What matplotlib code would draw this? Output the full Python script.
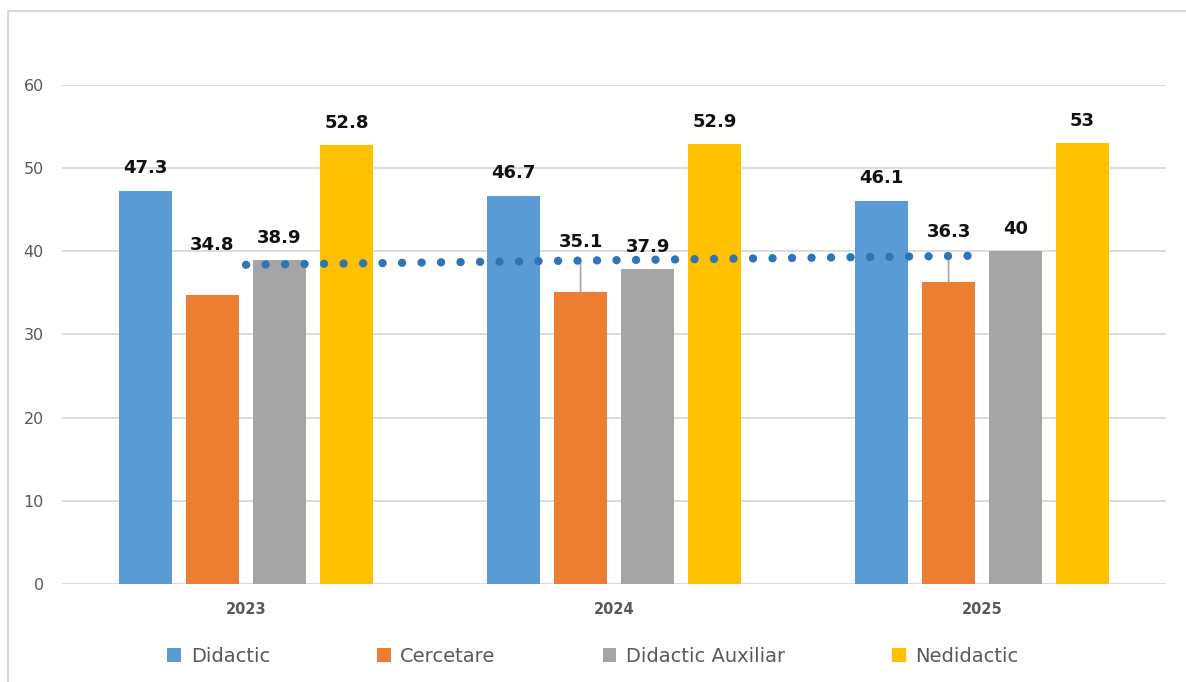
import numpy as np
import matplotlib
matplotlib.use('Agg')
import matplotlib.pyplot as plt
from matplotlib.patches import Rectangle

years = ['2023', '2024', '2025']
series = ['Didactic', 'Cercetare', 'Didactic Auxiliar', 'Nedidactic']
didactic = [47.3, 46.7, 46.1]
cercetare = [34.8, 35.1, 36.3]
auxiliar = [38.9, 37.9, 40]
nedidactic = [52.8, 52.9, 53]
colors = ['#5B9BD5', '#ED7D31', '#A5A5A5', '#FFC000']

fig = plt.figure(figsize=(11.86, 6.82), dpi=100)
ax = fig.add_axes([0.0523, 0.1437, 0.9309, 0.7317])

x = np.arange(len(years))
width = 0.144
step = 0.182
values = [didactic, cercetare, auxiliar, nedidactic]

for i, (name, vals, c) in enumerate(zip(series, values, colors)):
    pos = x + (i - 1.5) * step
    ax.bar(pos, vals, width, color=c, label=name, zorder=2)
    for j, (px, v) in enumerate(zip(pos, vals)):
        lbl = f'{v:g}'
        if name == 'Cercetare':
            # labels moved up in the original, with leader lines
            off = 36
            if j > 0:
                ax.annotate('', xy=(px, v), xytext=(0, 21), textcoords='offset points',
                            arrowprops=dict(arrowstyle='-', color='#A6A6A6', lw=1.2,
                                            shrinkA=0, shrinkB=0), zorder=3)
        else:
            off = 16
        ax.annotate(lbl, (px, v), xytext=(0, off), textcoords='offset points',
                    ha='center', va='center', fontsize=13, fontweight='bold',
                    color='#111111', zorder=5)

# linear trendline of Didactic Auxiliar
k, b = np.polyfit(x, auxiliar, 1)
ax.plot(x, k * x + b, color='#2E75B6', lw=6, linestyle=(0, (0.01, 2.33)),
        dash_capstyle='round', solid_capstyle='round', zorder=4)

ax.set_ylim(0, 60)
ax.set_xlim(-0.5, 2.5)
ax.set_yticks(range(0, 61, 10))
ax.set_xticks(x)
ax.set_xticklabels(years, fontweight='bold', fontsize=10.5, color='#595959')
ax.tick_params(axis='y', length=0, pad=13, labelsize=11.5, labelcolor='#595959')
ax.tick_params(axis='x', length=0, pad=13)
ax.grid(axis='y', color='#D9D9D9', lw=1.3, zorder=0)
ax.set_axisbelow(True)
for s in ax.spines.values():
    s.set_visible(False)

fig.legend(loc='center', bbox_to_anchor=(0.5, 0.038), ncol=4, frameon=False,
           fontsize=14, labelcolor='#595959', handlelength=0.7, handleheight=0.7,
           handletextpad=0.5, columnspacing=5.5)

fig.patches.append(Rectangle((0.0067, -0.1), 1.2, 0.984 + 0.1, transform=fig.transFigure,
                             fill=False, edgecolor='#D9D9D9', lw=1.5))

fig.savefig('out.png', dpi=100)
